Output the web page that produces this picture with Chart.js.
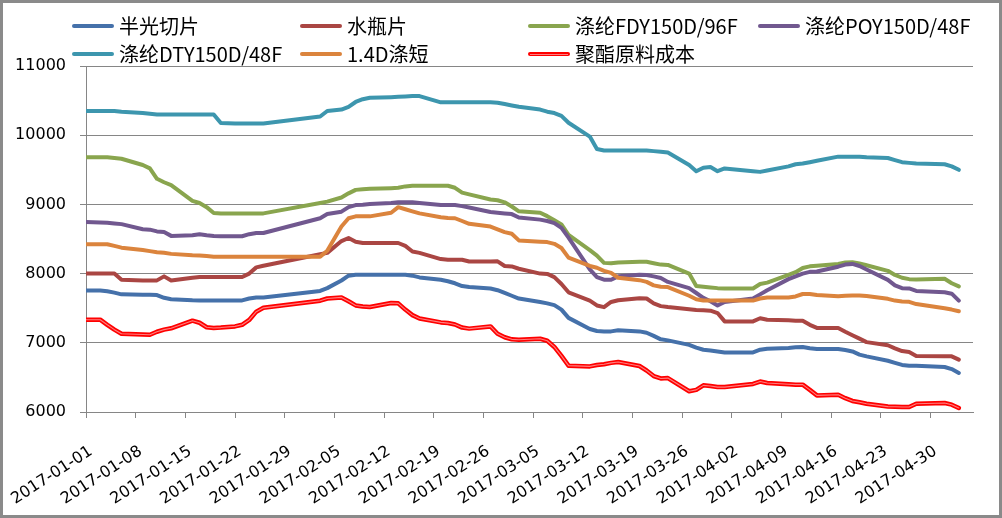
<!DOCTYPE html>
<html><head><meta charset="utf-8">
<script src="https://cdn.jsdelivr.net/npm/chart.js@4"></script>
<style>
html,body{margin:0;padding:0;background:#fff;}
#wrap{position:relative;width:1002px;height:518px;overflow:hidden;background:#fff;}
canvas{position:absolute;left:0;top:0;}
.lg{position:absolute;display:flex;align-items:center;font-family:"Noto Sans CJK SC";font-size:20px;color:#000;white-space:nowrap;line-height:22px;}
.lg i{display:inline-block;width:42px;height:4px;border-radius:2px;margin-right:5px;position:relative;}
.lg i.dbl::after{content:"";position:absolute;left:2px;right:2px;top:1.5px;height:1px;background:rgba(255,150,150,0.85);}
#frame{position:absolute;left:0;top:0;width:1002px;height:518px;box-sizing:border-box;border:3px solid #8a8a8a;pointer-events:none;}
</style></head>
<body><div id="wrap"><canvas id="c" width="1002" height="518"></canvas><div id="legend"></div><div id="frame"></div></div>
<script>
const dates = [
 '2017-01-01','2017-01-03','2017-01-04','2017-01-05','2017-01-06',
 '2017-01-09','2017-01-10','2017-01-11','2017-01-12','2017-01-13',
 '2017-01-16','2017-01-17','2017-01-18','2017-01-19','2017-01-20',
 '2017-01-22','2017-01-23','2017-01-24','2017-01-25','2017-01-26',
 '2017-02-03','2017-02-04',
 '2017-02-06','2017-02-07','2017-02-08','2017-02-09','2017-02-10',
 '2017-02-13','2017-02-14','2017-02-15','2017-02-16','2017-02-17',
 '2017-02-20','2017-02-21','2017-02-22','2017-02-23','2017-02-24',
 '2017-02-27','2017-02-28','2017-03-01','2017-03-02','2017-03-03',
 '2017-03-06','2017-03-07','2017-03-08','2017-03-09','2017-03-10',
 '2017-03-13','2017-03-14','2017-03-15','2017-03-16','2017-03-17',
 '2017-03-20','2017-03-21','2017-03-22','2017-03-23','2017-03-24',
 '2017-03-27','2017-03-28','2017-03-29','2017-03-30','2017-03-31','2017-04-01',
 '2017-04-05','2017-04-06','2017-04-07',
 '2017-04-10','2017-04-11','2017-04-12','2017-04-13','2017-04-14',
 '2017-04-17','2017-04-18','2017-04-19','2017-04-20','2017-04-21',
 '2017-04-24','2017-04-25','2017-04-26','2017-04-27','2017-04-28',
 '2017-05-02','2017-05-03','2017-05-04'
];
const tickLabels = ['2017-01-01','2017-01-08','2017-01-15','2017-01-22','2017-01-29','2017-02-05','2017-02-12','2017-02-19','2017-02-26','2017-03-05','2017-03-12','2017-03-19','2017-03-26','2017-04-02','2017-04-09','2017-04-16','2017-04-23','2017-04-30'];
const seriesNames = ['半光切片','水瓶片','涤纶FDY150D/96F','涤纶POY150D/48F','涤纶DTY150D/48F','1.4D涤短','聚酯原料成本'];

const banguang = [7757,7757,7745,7725,7700,
 7695,7695,7690,7650,7630,
 7615,7613,7613,7613,7613,
 7613,7613,7640,7656,7656,
 7750,7790,
 7900,7970,7984,7984,7984,
 7984,7984,7984,7970,7945,
 7910,7890,7860,7820,7805,
 7785,7760,7720,7680,7640,
 7590,7570,7545,7480,7360,
 7200,7170,7165,7165,7180,
 7165,7145,7100,7050,7035,
 6970,6930,6900,6890,6875,6861,
 6861,6900,6915,
 6925,6935,6940,6920,6911,
 6911,6895,6875,6830,6804,
 6740,6710,6680,6669,6669,
 6650,6620,6564];
const shuiping = [8000,8000,8000,8000,7910,
 7902,7902,7902,7960,7900,
 7940,7950,7950,7950,7950,
 7950,7950,8000,8090,8114,
 8280,8300,
 8470,8515,8460,8442,8442,
 8442,8442,8400,8320,8300,
 8210,8201,8201,8201,8175,
 8175,8177,8110,8104,8070,
 8000,7995,7950,7850,7730,
 7610,7540,7515,7590,7615,
 7645,7640,7570,7530,7517,
 7485,7475,7470,7464,7430,7309,
 7309,7355,7334,
 7325,7320,7320,7260,7215,
 7214,7160,7110,7060,7010,
 6965,6920,6880,6867,6810,
 6804,6804,6756];
const fdy = [9680,9680,9680,9670,9660,
 9570,9520,9370,9320,9280,
 9050,9020,8960,8876,8870,
 8870,8870,8870,8870,8870,
 9020,9040,
 9100,9160,9210,9220,9225,
 9235,9240,9260,9270,9270,
 9270,9270,9240,9170,9145,
 9070,9060,9030,8970,8900,
 8880,8830,8770,8710,8560,
 8340,8260,8155,8150,8160,
 8170,8170,8150,8130,8125,
 8000,7820,7810,7800,7790,7785,
 7785,7850,7870,
 7980,8020,8080,8105,8115,
 8140,8160,8165,8145,8120,
 8040,7980,7940,7920,7915,
 7925,7860,7815];
const poy = [8745,8740,8735,8725,8715,
 8640,8635,8610,8600,8545,
 8555,8570,8555,8545,8540,
 8540,8540,8570,8587,8587,
 8800,8860,
 8895,8960,8990,8995,9005,
 9020,9030,9030,9030,9020,
 8990,8990,8990,8975,8955,
 8890,8880,8870,8860,8810,
 8780,8760,8730,8660,8520,
 8060,7950,7912,7912,7960,
 7984,7980,7960,7936,7880,
 7790,7720,7650,7600,7540,7590,
 7640,7700,7760,
 7920,7960,8000,8025,8030,
 8100,8130,8140,8110,8060,
 7910,7830,7790,7785,7750,
 7730,7710,7610];
const dty = [10350,10350,10350,10350,10340,
 10320,10310,10300,10300,10300,
 10300,10300,10300,10300,10175,
 10170,10170,10170,10170,10170,
 10270,10350,
 10370,10410,10480,10520,10540,
 10550,10555,10560,10565,10565,
 10475,10475,10475,10475,10475,
 10475,10470,10450,10430,10410,
 10370,10340,10320,10280,10180,
 9980,9800,9780,9780,9780,
 9780,9780,9770,9760,9750,
 9570,9480,9530,9540,9480,9520,
 9480,9470,9490,
 9550,9580,9590,9610,9630,
 9690,9690,9690,9690,9680,
 9670,9640,9610,9600,9590,
 9580,9550,9500];
const duanxian = [8425,8425,8425,8400,8375,
 8340,8325,8310,8300,8285,
 8265,8263,8255,8245,8245,
 8245,8245,8245,8245,8245,
 8245,8330,
 8680,8800,8827,8827,8827,
 8880,8960,8930,8900,8870,
 8815,8805,8800,8760,8720,
 8680,8640,8600,8575,8480,
 8460,8455,8430,8370,8230,
 8110,8085,8040,8010,7940,
 7905,7880,7830,7810,7805,
 7680,7630,7612,7610,7610,7610,
 7610,7640,7656,
 7656,7670,7705,7705,7690,
 7672,7680,7685,7685,7675,
 7635,7610,7598,7592,7560,
 7500,7480,7455];
const chengben = [7334,7334,7260,7190,7130,
 7120,7117,7160,7190,7210,
 7320,7290,7225,7214,7220,
 7237,7260,7330,7450,7505,
 7608,7640,
 7656,7600,7540,7525,7517,
 7575,7570,7480,7400,7350,
 7295,7285,7265,7220,7205,
 7237,7130,7080,7050,7045,
 7059,7030,6940,6810,6670,
 6659,6680,6690,6710,6723,
 6665,6600,6520,6485,6490,
 6300,6320,6385,6375,6360,6360,
 6405,6440,6420,
 6400,6395,6395,6320,6240,
 6250,6200,6160,6140,6120,
 6078,6075,6073,6072,6120,
 6130,6106,6058];

const seriesValues = [banguang, shuiping, fdy, poy, dty, duanxian, chengben];
const colors = ['#4571aa','#aa4643','#89a54e','#71588f','#3d96ae','#db843d','#ff0000'];

const base = Date.parse('2017-01-01T00:00:00Z');
const dayIndex = d => Math.round((Date.parse(d + 'T00:00:00Z') - base) / 86400000);
const toPoints = vals => dates.map((d, i) => ({x: dayIndex(d), y: vals[i]}));

const datasets = seriesValues.map((vals, i) => ({
  label: seriesNames[i],
  data: toPoints(vals),
  borderColor: colors[i],
  backgroundColor: colors[i],
  borderWidth: i === 6 ? 4.5 : 4,
  pointRadius: 0,
  tension: 0,
  fill: false,
  borderJoinStyle: 'round',
  borderCapStyle: 'round',
  order: 7 - i
}));
datasets.push({
  label: '_hl',
  data: toPoints(chengben),
  borderColor: 'rgba(255,150,150,0.85)',
  borderWidth: 1.1,
  pointRadius: 0,
  tension: 0,
  fill: false,
  borderJoinStyle: 'round',
  borderCapStyle: 'round',
  order: 0
});

const tickFont = {family: 'DejaVu Sans', size: 16};
new Chart(document.getElementById('c'), {
  type: 'line',
  data: {datasets},
  options: {
    responsive: false,
    animation: false,
    events: [],
    layout: {padding: {top: 66, right: 29, left: 0, bottom: 0}},
    plugins: {legend: {display: false}, tooltip: {enabled: false}},
    scales: {
      x: {
        type: 'linear', min: 0, max: 125,
        afterFit(s) { s.height = 106; s.paddingLeft = 0; s.paddingRight = 0; },
        grid: {drawOnChartArea: false, drawTicks: true, tickLength: 6, color: '#868686'},
        border: {color: '#868686', width: 1},
        ticks: {stepSize: 7, includeBounds: false, autoSkip: false, maxRotation: 33, minRotation: 33,
          padding: 24, labelOffset: 5, color: '#000', font: tickFont,
          callback: v => tickLabels[v / 7] ?? ''}
      },
      y: {
        min: 6000, max: 11000,
        afterFit(s) { s.width = 86; },
        grid: {color: '#868686', tickLength: 6},
        border: {color: '#868686', width: 1},
        ticks: {stepSize: 1000, padding: 14, color: '#000', font: tickFont,
          callback: v => String(v)}
      }
    }
  }
});

// HTML legend
const legendPos = [[72,15],[300,15],[528,15],[758,15],[72,43],[300,43],[528,43]];
const lg = document.getElementById('legend');
seriesNames.forEach((n, i) => {
  const el = document.createElement('div');
  el.className = 'lg';
  el.style.left = legendPos[i][0] + 'px';
  el.style.top = legendPos[i][1] + 'px';
  const sw = document.createElement('i');
  sw.style.background = colors[i];
  if (i === 6) sw.className = 'dbl';
  el.appendChild(sw);
  const t = document.createElement('span');
  t.textContent = n;
  el.appendChild(t);
  lg.appendChild(el);
});
</script>
</body></html>
